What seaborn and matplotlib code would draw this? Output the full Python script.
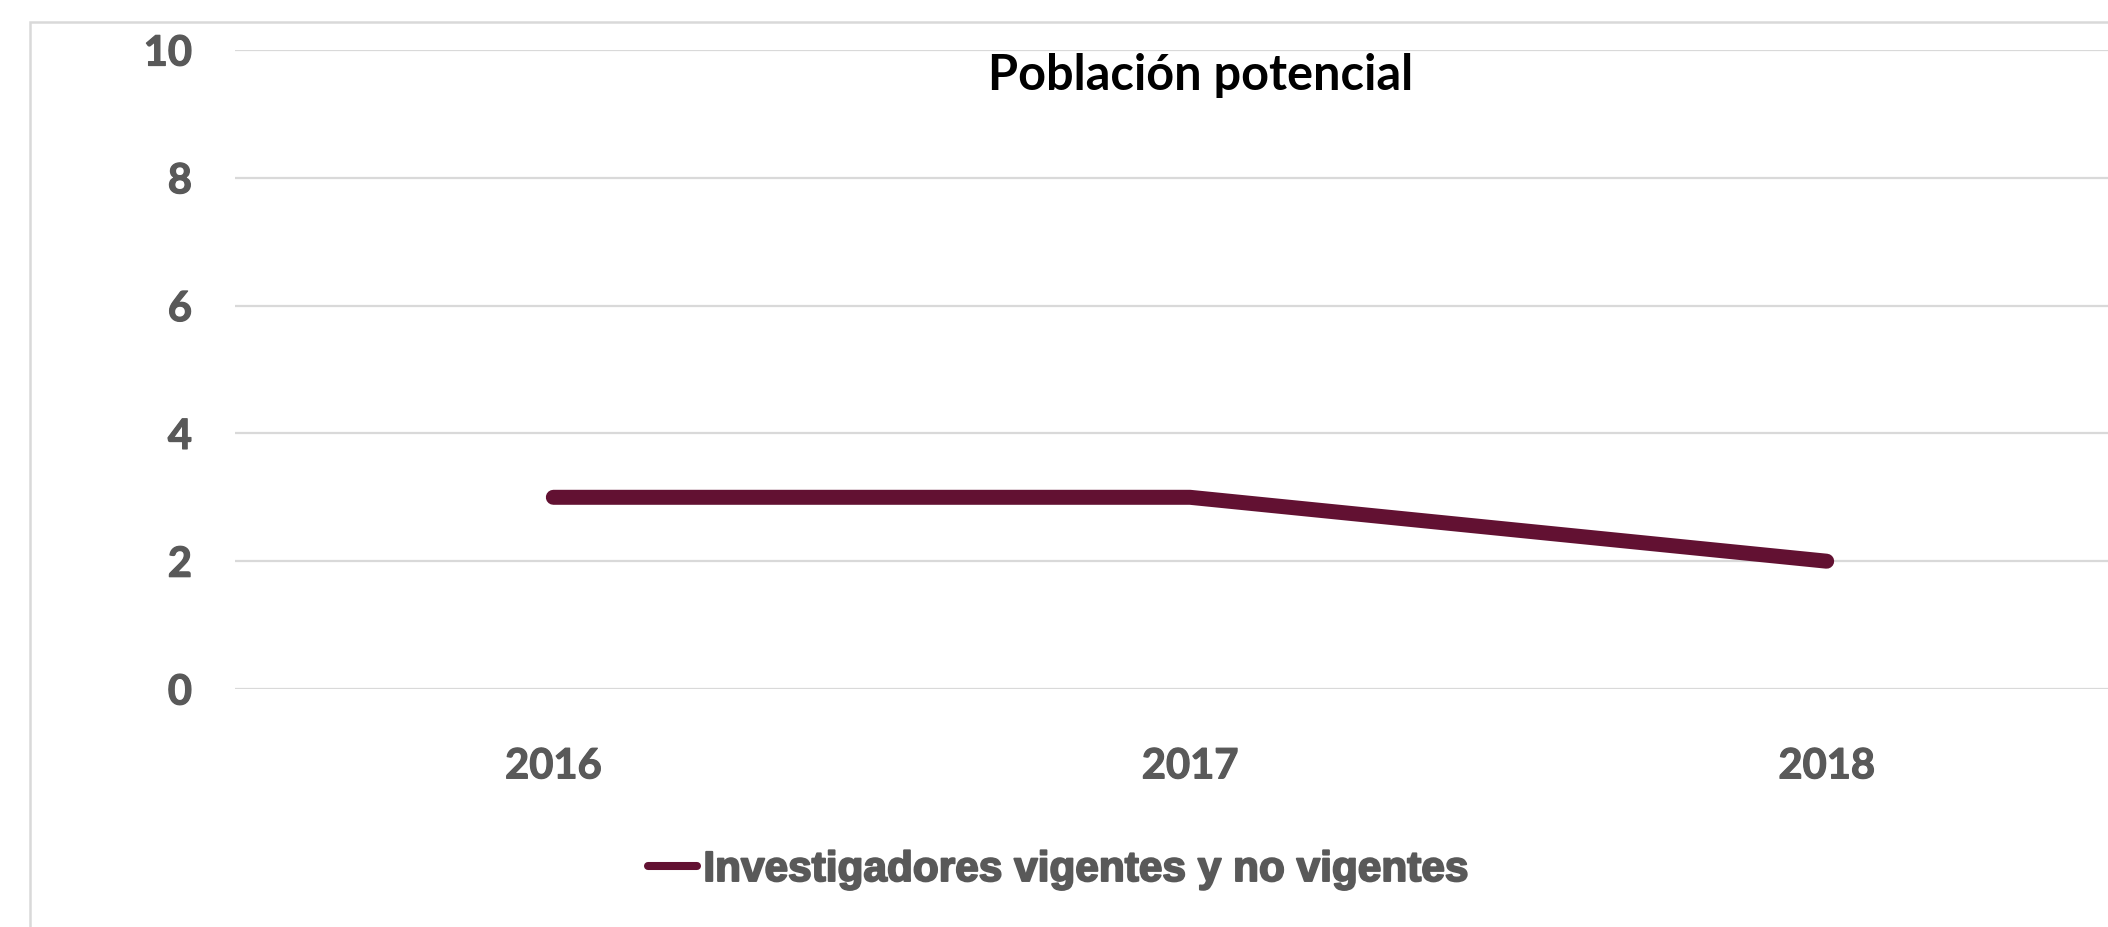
import matplotlib
matplotlib.use("Agg")
import matplotlib.pyplot as plt
import matplotlib.patheffects as pe
import seaborn as sns
import pandas as pd
from matplotlib.patches import Rectangle

years = ["2016", "2017", "2018"]
values = [3, 3, 2]
series_name = "Investigadores vigentes y no vigentes"
title = "Población potencial"
y_ticks = [0, 2, 4, 6, 8, 10]

line_color = "#621132"
text_gray = "#595959"
grid_gray = "#d9d9d9"

df = pd.DataFrame({"Año": years, "Valor": values, "Serie": series_name})

sns.set_theme(style="white")
plt.rcParams["font.family"] = ["Lato", "DejaVu Sans"]

fig = plt.figure(figsize=(21.08, 9.28), dpi=100)
W, H = 2108, 928

# plot area (pixel-based, right edge runs past the image like the source)
left, right = 235, 2145
top, bottom = 51, 690
ax = fig.add_axes([left / W, 1 - bottom / H, (right - left) / W, (bottom - top) / H])

sns.lineplot(data=df, x="Año", y="Valor", hue="Serie", palette=[line_color],
             linewidth=10.8, ax=ax, sort=False)
for ln in ax.lines:
    ln.set_solid_capstyle("round")
    ln.set_solid_joinstyle("round")

ax.set_xlim(-0.5, 2.5)
ax.set_ylim(0, 10)
ax.set_yticks(y_ticks)
ax.set_xlabel("")
ax.set_ylabel("")
for s in ax.spines.values():
    s.set_visible(False)
ax.yaxis.grid(True, color=grid_gray, linewidth=1.6)
ax.xaxis.grid(False)
ax.set_axisbelow(True)
ax.tick_params(axis="y", length=0, pad=31, labelsize=30, labelcolor=text_gray)
ax.tick_params(axis="x", length=0, pad=42, labelsize=30, labelcolor=text_gray)
for lab in ax.get_xticklabels() + ax.get_yticklabels():
    lab.set_fontweight("bold")
    lab.set_path_effects([pe.withStroke(linewidth=0.9, foreground=text_gray)])

# legend below the plot
handles, labels = ax.get_legend_handles_labels()
ax.legend_.remove()
for h in handles:
    h.set_linewidth(5.8)
    h.set_solid_capstyle("round")
leg = fig.legend(handles, labels, loc="center", bbox_to_anchor=(1059 / W, 1 - 871 / H),
                 frameon=False, handlelength=1.15, handletextpad=0.15,
                 prop={"family": "Liberation Sans", "weight": "bold", "size": 30.5})
for t in leg.get_texts():
    t.set_color(text_gray)
    t.set_path_effects([pe.withStroke(linewidth=1.4, foreground=text_gray)])

fig.text(1201 / W, 1 - 76 / H, title, ha="center", va="center",
         fontsize=35, fontweight="bold", color="black")

# chart-area border (runs off the right and bottom edges)
fig.patches.append(Rectangle((30 / W, -0.1), 1.2, 1 - 23 / H + 0.1,
                             transform=fig.transFigure, fill=False,
                             edgecolor=grid_gray, linewidth=1.8))

fig.savefig("out.png", dpi=100, facecolor="white")
